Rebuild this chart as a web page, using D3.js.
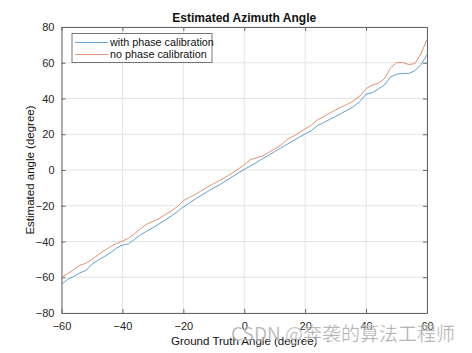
<!DOCTYPE html>
<html>
<head>
<meta charset="utf-8">
<script src="https://cdn.jsdelivr.net/npm/d3@7"></script>
<style>
  html, body { margin: 0; padding: 0; background: #fff; }
  svg { display: block; font-family: "Liberation Sans", Arial, sans-serif; }
</style>
</head>
<body>
<div id="chart"></div>
<script>
// ground truth angle, every 2 degrees
const truth = d3.range(-60, 61, 2);
// with phase calibration (blue)
const withCal = [
  -64, -61.2, -59.6, -57.6, -56.2, -52.8, -50.4, -48.5, -46.4, -43.8,
  -42, -41.3, -38.8, -36.2, -34.2, -32.3, -30.2, -28, -25.8, -23.4,
  -20.6, -18.4, -16.2, -14.1, -12, -10, -8.2, -6, -3.8, -1.7,
  0.3, 2.2, 4.2, 6.3, 8.3, 10.3, 12.3, 14.3, 16.3, 18.3,
  20.2, 22, 24.8, 26.5, 28.2, 30, 31.8, 33.6, 35.6, 38.3,
  42.5, 43.2, 45.3, 47.5, 52, 53.6, 54, 54, 55.5, 59, 64.5
];
// no phase calibration (orange)
const noCal = [
  -60, -58, -55.8, -53.3, -52.2, -50, -47.5, -45, -43, -41.2,
  -39.8, -38.2, -35.6, -32.8, -30.3, -28.8, -27.2, -25, -23, -20.5,
  -17.2, -15.3, -13.6, -11.5, -9.5, -7.6, -5.8, -3.8, -1.8, 0.5,
  3, 5.8, 6.8, 7.8, 9.8, 11.8, 13.8, 17, 18.8, 20.8,
  23, 25, 28, 29.8, 31.8, 33.6, 35.3, 36.9, 38.8, 41.5,
  45.5, 47.5, 48.5, 51, 57, 60, 60.2, 59, 59.5, 65, 73
];
const xTicks = [-60, -40, -20, 0, 20, 40, 60];
const yTicks = [-80, -60, -40, -20, 0, 20, 40, 60, 80];
const seriesNames = ["with phase calibration", "no phase calibration"];
const colors = ["#5fa2d4", "#e39272"];

const W = 472, H = 353;
const margin = { top: 27, right: 45, bottom: 40, left: 61.5 };
const w = W - margin.left - margin.right, h = H - margin.top - margin.bottom;

const svg = d3.select("#chart").append("svg").attr("width", W).attr("height", H);
const g = svg.append("g").attr("transform", `translate(${margin.left},${margin.top})`);

const x = d3.scaleLinear().domain([-60, 60]).range([0, w]);
const y = d3.scaleLinear().domain([-80, 80]).range([h, 0]);

// grid
g.append("g").selectAll("line").data(xTicks).join("line")
  .attr("x1", d => x(d)).attr("x2", d => x(d)).attr("y1", 0).attr("y2", h)
  .attr("stroke", "#e4e4e4");
g.append("g").selectAll("line").data(yTicks).join("line")
  .attr("y1", d => y(d)).attr("y2", d => y(d)).attr("x1", 0).attr("x2", w)
  .attr("stroke", "#e4e4e4");

// axes (ticks inward, box on all four sides)
const axisStyle = s => {
  s.select(".domain").attr("stroke", "#666");
  s.selectAll(".tick line").attr("stroke", "#666");
  s.selectAll("text").attr("fill", "#262626").attr("font-size", 11)
    .attr("font-family", "Liberation Sans, Arial, sans-serif");
};
g.append("g").attr("transform", `translate(0,${h})`)
  .call(d3.axisBottom(x).tickValues(xTicks).tickSizeInner(-4).tickSizeOuter(0).tickPadding(9))
  .call(axisStyle);
g.append("g")
  .call(d3.axisTop(x).tickValues(xTicks).tickSizeInner(-4).tickSizeOuter(0).tickFormat(""))
  .call(axisStyle);
g.append("g")
  .call(d3.axisLeft(y).tickValues(yTicks).tickSizeInner(-4).tickSizeOuter(0).tickPadding(7))
  .call(axisStyle);
g.append("g").attr("transform", `translate(${w},0)`)
  .call(d3.axisRight(y).tickValues(yTicks).tickSizeInner(-4).tickSizeOuter(0).tickFormat(""))
  .call(axisStyle);

// lines
const line = d3.line().x((d, i) => x(truth[i])).y(d => y(d));
[withCal, noCal].forEach((s, k) => {
  g.append("path").datum(s)
    .attr("fill", "none").attr("stroke", colors[k]).attr("stroke-width", 1)
    .attr("d", line);
});

// legend
const lg = g.append("g").attr("transform", "translate(10.5,6.5)");
lg.append("rect").attr("width", 140).attr("height", 29)
  .attr("fill", "#fff").attr("stroke", "#555").attr("stroke-width", 0.8);
seriesNames.forEach((n, k) => {
  const ly = 9 + k * 12;
  lg.append("line").attr("x1", 3).attr("x2", 36).attr("y1", ly).attr("y2", ly)
    .attr("stroke", colors[k]).attr("stroke-width", 1);
  lg.append("text").attr("x", 38).attr("y", ly).attr("dy", "0.35em")
    .attr("font-size", 10.8).attr("fill", "#111").text(n);
});

// title and axis labels
svg.append("text").attr("x", margin.left + w / 2).attr("y", 22)
  .attr("text-anchor", "middle").attr("font-size", 12).attr("font-weight", "bold")
  .attr("fill", "#111").text("Estimated Azimuth Angle");
svg.append("text").attr("x", margin.left + w / 2).attr("y", 345)
  .attr("text-anchor", "middle").attr("font-size", 11.5).attr("fill", "#111")
  .text("Ground Truth Angle (degree)");
svg.append("text").attr("transform", `translate(34,${margin.top + h / 2}) rotate(-90)`)
  .attr("text-anchor", "middle").attr("font-size", 11.5).attr("fill", "#111")
  .text("Estimated angle (degree)");

// watermark
svg.append("text").attr("x", 455).attr("y", 341).attr("text-anchor", "end")
  .attr("font-family", "Noto Sans CJK SC, sans-serif").attr("font-size", 19)
  .attr("fill", "#8c8c8c").attr("fill-opacity", 0.75)
  .attr("stroke", "#fff").attr("stroke-width", 0.6).attr("stroke-opacity", 0.6)
  .text("CSDN @奔袭的算法工程师");
</script>
</body>
</html>
